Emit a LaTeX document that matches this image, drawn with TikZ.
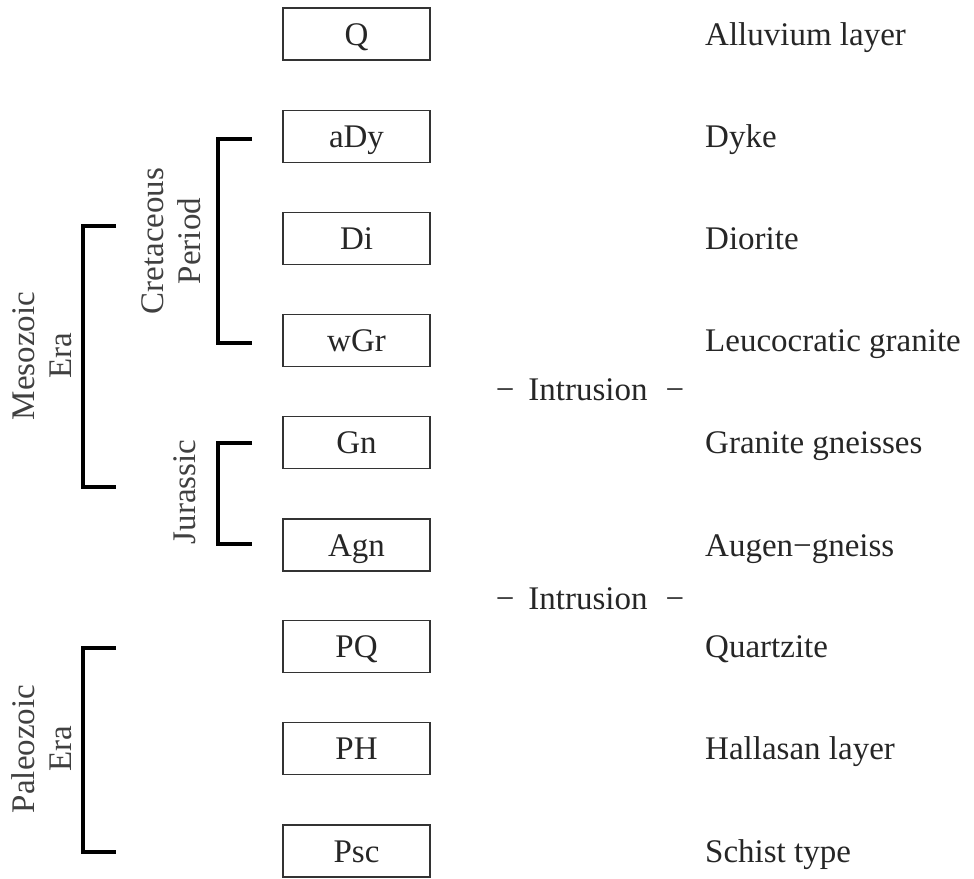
\documentclass[tikz,border=0pt]{standalone}
\usepackage{fontspec}
\setmainfont{Liberation Serif}
\begin{document}
\begin{tikzpicture}[x=1pt,y=-1pt,
  txt/.style={font=\fontsize{33}{37}\selectfont, text=black!85},
  box/.style={txt, draw=black!80, line width=1.2pt, minimum width=147pt,
    minimum height=52pt, inner sep=0pt, text height=22pt, text depth=0pt},
  lbl/.style={txt, anchor=base west, inner sep=0pt},
  mid/.style={txt, inner sep=0pt, text height=22pt, text depth=0pt},
  vlbl/.style={txt, rotate=90, align=center, inner sep=0pt, text=black!75},
  brk/.style={line width=4pt, line join=miter}]
\useasboundingbox (0,0) rectangle (974,878);

% boxes
\node[box] (Q)   at (356.5,34)  {Q};
\node[box] (aDy) at (356.5,136.5) {aDy};
\node[box] (Di)  at (356.5,238.5) {Di};
\node[box] (wGr) at (356.5,340.5) {wGr};
\node[box] (Gn)  at (356.5,442.5) {Gn};
\node[box] (Agn) at (356.5,545) {Agn};
\node[box] (PQ)  at (356.5,646.5) {PQ};
\node[box] (PH)  at (356.5,748.5) {PH};
\node[box] (Psc) at (356.5,851) {Psc};

% descriptions
\node[lbl] (tQ)   at (705,45)    {Alluvium layer};
\node[lbl] (taDy) at (705,147.5) {Dyke};
\node[lbl] (tDi)  at (705,249.5) {Diorite};
\node[lbl] (twGr) at (705,351.5) {Leucocratic granite};
\node[lbl] (tGn)  at (705,453.5) {Granite gneisses};
\node[lbl] (tAgn) at (705,556)   {Augen−gneiss};
\node[lbl] (tPQ)  at (705,657.5) {Quartzite};
\node[lbl] (tPH)  at (705,759.5) {Hallasan layer};
\node[lbl] (tPsc) at (705,862)   {Schist type};

% intrusion labels
\node[mid] (int1) at (590,389) {−\hspace{14pt}Intrusion\hspace{18pt}−};
\node[mid] (int2) at (590,598) {−\hspace{14pt}Intrusion\hspace{18pt}−};

% brackets
\coordinate (cT) at (252,139);
\coordinate (cB) at (252,343);
\draw[brk] (cT) -- ++(-34,0) |- (cB);
\coordinate (jT) at (252,443);
\coordinate (jB) at (252,544);
\draw[brk] (jT) -- ++(-34,0) |- (jB);
\coordinate (mT) at (116,226);
\coordinate (mB) at (116,487);
\draw[brk] (mT) -- ++(-33,0) |- (mB);
\coordinate (pT) at (116,648);
\coordinate (pB) at (116,852);
\draw[brk] (pT) -- ++(-33,0) |- (pB);

% period / era labels
\node[vlbl] (cret) at (171,241) {Cretaceous\\Period};
\node[vlbl] (jur)  at (185,492) {Jurassic};
\node[vlbl] (meso) at (42,356)  {Mesozoic\\Era};
\node[vlbl] (paleo) at (42,749) {Paleozoic\\Era};
\end{tikzpicture}
\end{document}
